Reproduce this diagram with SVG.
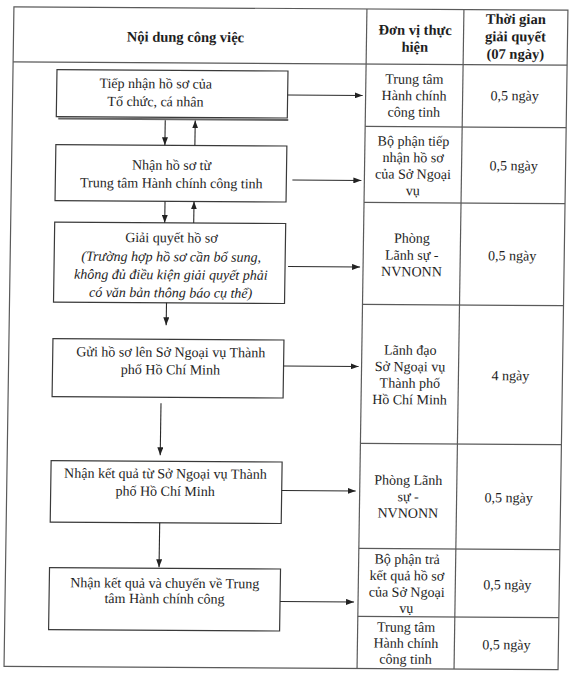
<svg xmlns="http://www.w3.org/2000/svg" width="575" height="681" viewBox="0 0 575 681">
<style>
.tbl{stroke:#5a5a5a;stroke-width:1.2;fill:none}
.box{fill:#fff;stroke:#3a3a3a;stroke-width:1.2}
.t{font-family:"Liberation Serif","Times New Roman",serif;font-size:14px;fill:#1e1e1e;text-anchor:middle}
.h{font-weight:bold;font-size:14.5px}
.i{font-style:italic}
.conn{stroke:#2a2a2a;stroke-width:1.1;fill:none;marker-end:url(#ah)}
</style>
<defs>
<marker id="ah" markerWidth="8" markerHeight="6" refX="8" refY="3" orient="auto" markerUnits="userSpaceOnUse">
<path d="M0,0 L8,3 L0,6 z" fill="#222"/>
</marker>
</defs>
<rect width="575" height="681" fill="#fff"/>
<g transform="matrix(1 0.006 -0.015 1 5.06 -1.72)">
<g id="table">
<rect class="tbl" x="9" y="8.5" width="554" height="659.5"/>
<line class="tbl" x1="9" y1="63.5" x2="563" y2="63.5"/>
<line class="tbl" x1="362" y1="8.5" x2="362" y2="668"/>
<line class="tbl" x1="459" y1="8.5" x2="459" y2="668"/>
<line class="tbl" x1="362" y1="126" x2="563" y2="126"/>
<line class="tbl" x1="362" y1="202" x2="563" y2="202"/>
<line class="tbl" x1="362" y1="304" x2="563" y2="304"/>
<line class="tbl" x1="362" y1="443" x2="563" y2="443"/>
<line class="tbl" x1="362" y1="548" x2="563" y2="548"/>
<line class="tbl" x1="362" y1="616" x2="563" y2="616"/>
<text class="t h" x="181" y="42.5">Nội dung công việc</text>
<text class="t h" x="410.5" y="34">Đơn vị thực</text>
<text class="t h" x="410.5" y="51">hiện</text>
<text class="t h" x="511" y="22.5">Thời gian</text>
<text class="t h" x="511" y="40">giải quyết</text>
<text class="t h" x="511" y="57.5">(07 ngày)</text>
</g>
<g id="unit1"><text class="t" x="410.5" y="83">Trung tâm</text><text class="t" x="410.5" y="99.5">Hành chính</text><text class="t" x="410.5" y="116">công tinh</text><text class="t" x="511" y="99">0,5 ngày</text></g>
<g id="unit2"><text class="t" x="410.5" y="145">Bộ phận tiếp</text><text class="t" x="410.5" y="161.5">nhận hồ sơ</text><text class="t" x="410.5" y="178">của Sở Ngoại</text><text class="t" x="410.5" y="194.5">vụ</text><text class="t" x="511" y="169">0,5 ngày</text></g>
<g id="unit3"><text class="t" x="410.5" y="242">Phòng</text><text class="t" x="410.5" y="259">Lãnh sự -</text><text class="t" x="410.5" y="275.5">NVNONN</text><text class="t" x="511" y="259">0,5 ngày</text></g>
<g id="unit4"><text class="t" x="410.5" y="354">Lãnh đạo</text><text class="t" x="410.5" y="370.5">Sở Ngoại vụ</text><text class="t" x="410.5" y="387">Thành phố</text><text class="t" x="410.5" y="403.5">Hồ Chí Minh</text><text class="t" x="511" y="379">4 ngày</text></g>
<g id="unit5"><text class="t" x="410.5" y="484">Phòng Lãnh</text><text class="t" x="410.5" y="500.5">sự -</text><text class="t" x="410.5" y="517">NVNONN</text><text class="t" x="511" y="501">0,5 ngày</text></g>
<g id="unit6"><text class="t" x="410.5" y="563">Bộ phận trả</text><text class="t" x="410.5" y="579.5">kết quả hồ sơ</text><text class="t" x="410.5" y="596">của Sở Ngoại</text><text class="t" x="410.5" y="612">vụ</text><text class="t" x="511" y="588">0,5 ngày</text></g>
<g id="unit7"><text class="t" x="410.5" y="631">Trung tâm</text><text class="t" x="410.5" y="647">Hành chính</text><text class="t" x="410.5" y="663">công tinh</text><text class="t" x="511" y="648">0,5 ngày</text></g>
<g id="box1"><rect class="box" x="53" y="71" width="231" height="47"/><line x1="55" y1="120" x2="285" y2="120" stroke="#666" stroke-width="2"/><text class="t" x="152" y="89">Tiếp nhận hồ sơ của</text><text class="t" x="152" y="107">Tổ chức, cá nhân</text></g>
<g id="box2"><rect class="box" x="53" y="146" width="231" height="56"/><text class="t" x="169" y="170.5">Nhận hồ sơ từ</text><text class="t" x="169" y="188.5">Trung tâm Hành chính công tinh</text></g>
<g id="box3"><rect class="box" x="53" y="223.5" width="231" height="80"/><text class="t" x="170" y="243">Giải quyết hồ sơ</text><text class="t i" x="170" y="262">(Trường hợp hồ sơ cần bổ sung,</text><text class="t i" x="170" y="280">không đủ điều kiện giải quyết phải</text><text class="t i" x="170" y="298">có văn bản thông báo cụ thể)</text></g>
<g id="box4"><rect class="box" x="53" y="340" width="231" height="58"/><text class="t" x="171" y="357.5">Gửi hồ sơ lên Sở Ngoại vụ Thành</text><text class="t" x="171" y="375">phố Hồ Chí Minh</text></g>
<g id="box5"><rect class="box" x="53" y="462" width="231" height="61.5"/><text class="t" x="167.5" y="479">Nhận kết quả từ Sở Ngoại vụ Thành</text><text class="t" x="167.5" y="496.5">phố Hồ Chí Minh</text></g>
<g id="box6"><rect class="box" x="53" y="569" width="231" height="62"/><text class="t" x="168.5" y="588.5">Nhận kết quả và chuyển về Trung</text><text class="t" x="168.5" y="604">tâm Hành chính công</text></g>
<g id="connectors">
<line class="conn" x1="162" y1="121" x2="162" y2="146"/>
<line class="conn" x1="192" y1="146" x2="192" y2="121"/>
<line class="conn" x1="163" y1="202" x2="163" y2="223.5"/>
<line class="conn" x1="192" y1="223.5" x2="192" y2="202"/>
<line class="conn" x1="166" y1="303.5" x2="166" y2="326"/>
<line class="conn" x1="162" y1="404" x2="162" y2="456"/>
<line class="conn" x1="162.5" y1="523.5" x2="162.5" y2="568"/>
<line class="conn" x1="284" y1="95" x2="359" y2="95"/>
<line class="conn" x1="290" y1="180" x2="359" y2="180"/>
<line class="conn" x1="287" y1="266.5" x2="359" y2="266.5"/>
<line class="conn" x1="284" y1="366" x2="359" y2="366"/>
<line class="conn" x1="284" y1="490.5" x2="358" y2="490.5"/>
<line class="conn" x1="284" y1="601.5" x2="358" y2="601.5"/>
</g>
</g>
</svg>
